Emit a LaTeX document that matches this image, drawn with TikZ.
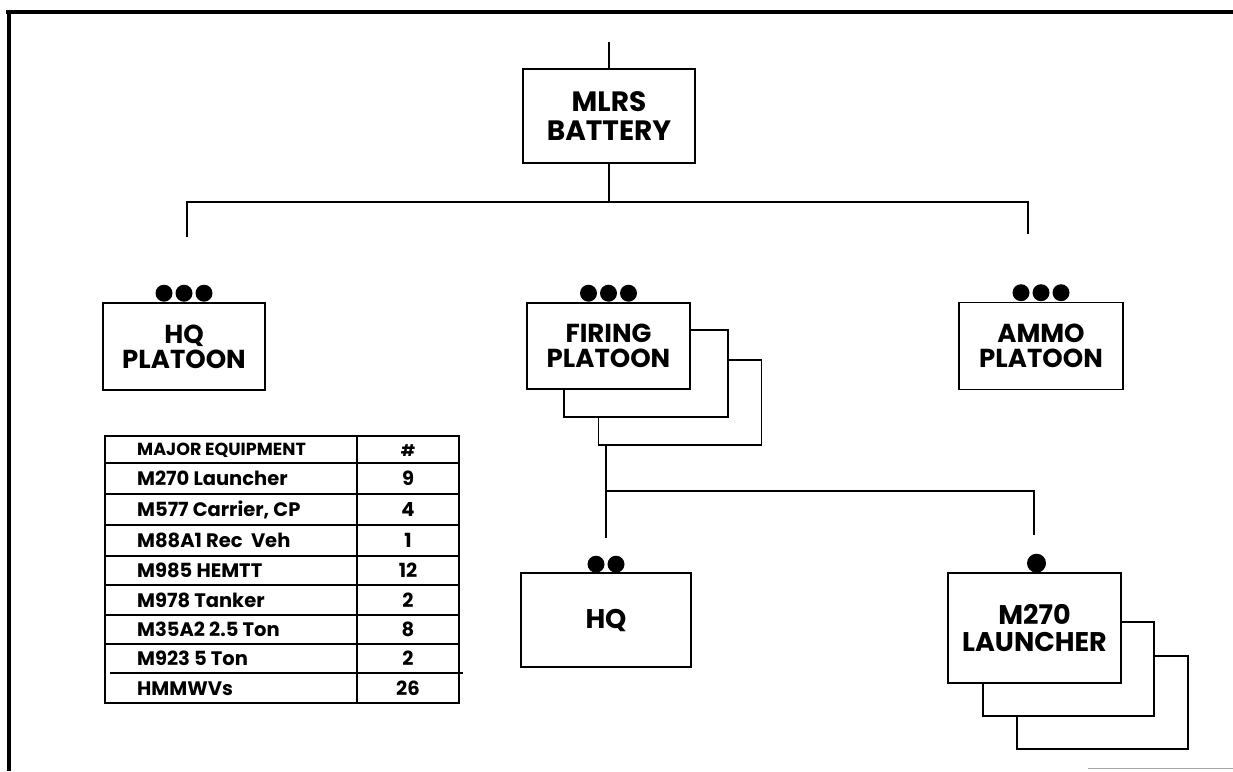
\documentclass[tikz,border=0pt]{standalone}
\usepackage{fontspec}
\setmainfont{Poppins}
\begin{document}
\begin{tikzpicture}[x=1pt,y=-1pt,
  box/.style={draw,line width=1.6pt,fill=white,inner sep=0pt,align=center,
    font=\fontsize{26}{25}\selectfont\bfseries},
  bigbox/.style={box,font=\fontsize{28}{29}\selectfont\bfseries},
  midbox/.style={box,font=\fontsize{27}{27}\selectfont\bfseries},
  conn/.style={line width=1.6pt},
  dotc/.style={fill=black,circle,inner sep=0pt,minimum size=17pt},
  tabline/.style={line width=1.3pt},
  tabtxt/.style={font=\fontsize{19.5}{21}\selectfont\bfseries,anchor=base west,inner sep=0pt},
  tabnum/.style={font=\fontsize{19.5}{21}\selectfont\bfseries,anchor=base,inner sep=0pt},
  tabhead/.style={font=\fontsize{17.5}{19}\selectfont\bfseries,anchor=base west,inner sep=0pt}
]
\useasboundingbox (0,0) rectangle (1233,771);
% frame
\draw[line width=4pt] (6,12) -- (1233,12);
\draw[line width=4pt] (9,10) -- (9,771);
\draw[line width=0.8pt,black!35] (1088,768) -- (1233,768);

% top level
\coordinate (topend) at (609,42);
\node[bigbox,minimum width=172pt,minimum height=94pt] (mlrs) at (609,116) {MLRS\\BATTERY};
\draw[conn] (topend) -- (mlrs.north);
\coordinate (busc) at (609,202);
\coordinate (busl) at (187,202);
\coordinate (busr) at (1028,202);
\coordinate (dropl) at (187,237);
\coordinate (dropr) at (1028,234);
\draw[conn] (mlrs.south) -- (busc);
\draw[conn] (dropl) -- (busl) -- (busr) -- (dropr);

% HQ platoon
\node[box,minimum width=162pt,minimum height=87pt] (hqp) at (184,346.5) {HQ\\PLATOON};
\node[dotc] (hqpd1) at ([xshift=-20pt,yshift=9pt]hqp.north) {};
\node[dotc] (hqpd2) at ([yshift=9pt]hqp.north) {};
\node[dotc] (hqpd3) at ([xshift=20pt,yshift=9pt]hqp.north) {};

% Firing platoon stack
\node[box,minimum width=163pt,minimum height=85pt] (fp3) at (680,402.5) {};
\node[box,minimum width=164pt,minimum height=87pt] (fp2) at (646,373.5) {};
\node[box,minimum width=163pt,minimum height=86pt] (fp) at (608.5,346) {FIRING\\PLATOON};
\node[dotc] (fpd1) at ([xshift=-20pt,yshift=9pt]fp.north) {};
\node[dotc] (fpd2) at ([yshift=9pt]fp.north) {};
\node[dotc] (fpd3) at ([xshift=20pt,yshift=9pt]fp.north) {};

% Ammo platoon
\node[box,minimum width=164pt,minimum height=87pt] (ammo) at (1041,346) {AMMO\\PLATOON};
\node[dotc] (amd1) at ([xshift=-20pt,yshift=9pt]ammo.north) {};
\node[dotc] (amd2) at ([yshift=9pt]ammo.north) {};
\node[dotc] (amd3) at ([xshift=20pt,yshift=9pt]ammo.north) {};

% lower connectors
\coordinate (fpl) at (606,445);
\coordinate (fpbus) at (606,491);
\coordinate (fpdrop) at (606,538);
\coordinate (lbus) at (1034,491);
\coordinate (ldrop) at (1034,535);
\draw[conn] (fpl) -- (fpdrop);
\draw[conn] (fpbus) -- (lbus) -- (ldrop);

% HQ
\node[midbox,minimum width=170pt,minimum height=94pt] (hq) at (606,620) {HQ};
\node[dotc] (hqd1) at ([xshift=-10pt,yshift=8pt]hq.north) {};
\node[dotc] (hqd2) at ([xshift=10pt,yshift=8pt]hq.north) {};

% M270 launcher stack
\node[box,minimum width=171pt,minimum height=93pt] (ml3) at (1102.5,702.5) {};
\node[box,minimum width=171pt,minimum height=94pt] (ml2) at (1068.5,669) {};
\node[midbox,minimum width=173pt,minimum height=110pt] (ml) at (1034.5,628) {M270\\LAUNCHER};
\node[dotc,minimum size=19pt] (mld) at ([xshift=2pt,yshift=9pt]ml.north) {};

% table
\draw[tabline] (105,436) rectangle (459,703);
\draw[tabline] (357,436) -- (357,703);
\foreach \yy in {463,494,525,556,585,615,644} {\draw[tabline] (105,\yy) -- (459,\yy);}
\draw[line width=1.8pt] (110,673) -- (463,673);

\node[tabhead] (h1) at (137,455.5) {MAJOR EQUIPMENT};
\node[tabnum,font=\fontsize{16}{18}\selectfont\bfseries] (h2) at (408,456) {\#};
\node[tabtxt] (r1) at (137,485.5) {M270 Launcher};
\node[tabnum] (n1) at (408,485.5) {9};
\node[tabtxt] (r2) at (137,516.5) {M577 Carrier, CP};
\node[tabnum] (n2) at (408,516.5) {4};
\node[tabtxt] (r3) at (137,547.5) {M88A1 Rec\ \ Veh};
\node[tabnum] (n3) at (408,547.5) {1};
\node[tabtxt] (r4) at (137,577.5) {M985 HEMTT};
\node[tabnum] (n4) at (408,577.5) {12};
\node[tabtxt] (r5) at (137,607) {M978 Tanker};
\node[tabnum] (n5) at (408,607) {2};
\node[tabtxt] (r6) at (137,636.5) {M35A2 2.5 Ton};
\node[tabnum] (n6) at (408,636.5) {8};
\node[tabtxt] (r7) at (137,665.5) {M923 5 Ton};
\node[tabnum] (n7) at (408,665.5) {2};
\node[tabtxt] (r8) at (137,695) {HMMWVs};
\node[tabnum] (n8) at (408,695) {26};
\end{tikzpicture}
\end{document}
